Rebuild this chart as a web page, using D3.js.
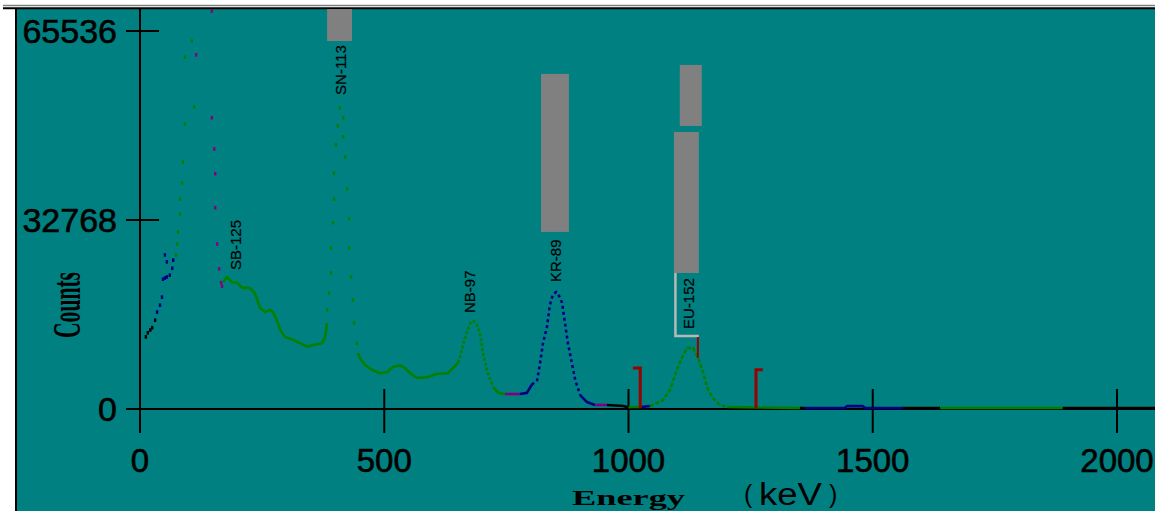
<!DOCTYPE html>
<html>
<head>
<meta charset="utf-8">
<script src="https://cdn.jsdelivr.net/npm/d3@7"></script>
<style>
    body { margin: 0; background: #fff; }
    svg { display: block; }
</style>
</head>
<body>
<svg id="chart" width="1155" height="511"></svg>
<script>
'use strict';

// axis ticks
var xTickValues = [0, 500, 1000, 1500, 2000];
var yTickValues = [0, 32768, 65536];

// spectrum pieces, [keV, counts]
var lowBlack = [[12, 12500], [16, 13200], [21, 13700], [25, 14100], [31, 15400]];
var lowBlue = [[35, 16800], [41, 18000], [45, 19400], [47, 22500], [51, 22700], [55, 22900],
    [61, 23200], [66, 24400], [68, 25800], [55, 25500], [51, 26700]];
var peak1Green = [[74, 26700], [76, 28600], [78, 30700], [82, 33800], [82, 36400], [86, 39200],
    [88, 42800], [92, 49400], [111, 52400], [92, 61000], [106, 63800]];
var peak1Magenta = [[115, 61400], [147, 69000], [147, 50500], [152, 45100], [154, 40800],
    [154, 34900], [158, 28600], [162, 24300], [166, 21900], [168, 21300]];
var sb125Line = [[170, 22000], [178, 22900], [188, 22000], [199, 21900], [209, 21000], [225, 21000],
    [235, 20100], [240, 18900], [246, 17500], [256, 16800], [266, 17200], [272, 16800], [280, 15400],
    [287, 13700], [297, 12500], [313, 12000], [328, 11400], [342, 10800], [354, 11100], [373, 11400],
    [379, 12500], [383, 14900]];
var sn113Dots = [[383, 17200], [387, 20100], [391, 23600], [391, 27900], [395, 32300], [397, 36400],
    [397, 40900], [401, 45800], [405, 49100], [409, 52200], [416, 50500], [416, 47200], [420, 43700],
    [424, 38200], [428, 33000], [428, 27900], [432, 22900], [436, 18900], [438, 14900], [444, 11400]];
var postSnLine = [[446, 9700], [450, 8800], [461, 7600], [475, 6800], [491, 6200], [506, 6400],
    [518, 7300], [532, 7600], [543, 7100], [553, 6200], [567, 5400], [588, 5500], [608, 6100],
    [630, 6200], [641, 7100], [651, 8000]];
var nb97Line = [[651, 8000], [655, 9000], [665, 12300], [676, 14900], [682, 15300], [690, 14600],
    [696, 13200], [702, 9700], [712, 6200], [723, 3800]];
var nb97Tail = [[723, 3800], [733, 2800], [747, 2600]];
var magentaA = [[747, 2600], [778, 2600]];
var blueA = [[778, 2600], [792, 2800], [802, 4200]];
var kr89Line = [[802, 4200], [813, 5000], [819, 8000], [825, 11400], [833, 14200], [839, 18000],
    [845, 19800], [852, 20300], [860, 19300], [864, 18400], [870, 14900], [876, 11400], [884, 8000],
    [891, 5000], [901, 2400]];
var blueB = [[901, 2400], [915, 1200], [931, 700]];
var magentaB = [[931, 700], [956, 700]];
var blackA = [[956, 700], [989, 520], [997, 350], [1001, 170]];
var greenA = [[1001, 170], [1003, 350], [1026, 350]];
var blueC = [[1026, 350], [1044, 520]];
var eu152Line = [[1044, 520], [1050, 690], [1071, 1560], [1085, 3300], [1099, 6800], [1110, 9000],
    [1120, 10600], [1132, 10600], [1142, 9000], [1153, 6200], [1163, 3300], [1173, 1900],
    [1187, 700], [1202, 350]];
var greenB = [[1202, 350], [1351, 170]];
var blackB = [[1351, 170], [1361, 170]];
var blueD = [[1361, 170], [1443, 170], [1447, 500], [1480, 500], [1484, 170], [1562, 170]];
var blackC = [[1562, 170], [1638, 170]];
var greenC = [[1638, 170], [1889, 170]];
var blackD = [[1889, 170], [2080, 170]];

// peak identification labels
var peakNames = ['SB-125', 'SN-113', 'NB-97', 'KR-89', 'EU-152'];
var peakLabelKeV = [195, 410, 675, 852, 1124];
var peakLabelCounts = [24100, 54450, 16650, 22020, 13870];

// grey bars: [keV from, keV to], [counts top, counts bottom]
var barKeV = [[383, 434], [821, 878], [1105, 1150], [1093, 1144]];
var barCounts = [[69400, 63800], [58100, 30700], [59650, 49070], [48030, 23580]];
var euBoxCounts = [23580, 12660];

// region-of-interest marks
var roiKeV = [1024, 1261];
var roiTab = [-15, 14];
var roiTop = [7100, 6800];
var euMarkKeV = 1142;
var euMarkCounts = [12480, 8840];

var GREEN = '#008000',
    BLUE = '#000080',
    MAGENTA = '#800080',
    BLACK = '#000',
    RED = '#990000';

var segments = [
    {pts: lowBlack, color: BLACK, mark: 'dot'},
    {pts: lowBlue, color: BLUE, mark: 'dot'},
    {pts: peak1Green, color: GREEN, mark: 'dot'},
    {pts: peak1Magenta, color: MAGENTA, mark: 'dot'},
    {pts: sb125Line, color: GREEN},
    {pts: sn113Dots, color: GREEN, mark: 'dot'},
    {pts: postSnLine, color: GREEN},
    {pts: nb97Line, color: GREEN, dash: '3,2'},
    {pts: nb97Tail, color: GREEN},
    {pts: magentaA, color: MAGENTA},
    {pts: blueA, color: BLUE},
    {pts: kr89Line, color: BLUE, dash: '3,3'},
    {pts: blueB, color: BLUE},
    {pts: magentaB, color: MAGENTA},
    {pts: blackA, color: BLACK},
    {pts: greenA, color: GREEN},
    {pts: blueC, color: BLUE},
    {pts: eu152Line, color: GREEN, dash: '4,2'},
    {pts: greenB, color: GREEN},
    {pts: blackB, color: BLACK},
    {pts: blueD, color: BLUE},
    {pts: blackC, color: BLACK},
    {pts: greenC, color: GREEN},
    {pts: blackD, color: BLACK}
];

var svg = d3.select('#chart');

var x = d3.scaleLinear().domain([0, 2000]).range([140, 1117]);
var y = d3.scaleLinear().domain([0, 65536]).range([409, 31]);

// window frame
svg.append('rect')
    .attr('x', 17).attr('y', 9)
    .attr('width', 1138).attr('height', 502)
    .attr('fill', '#008080');
svg.append('line')
    .attr('x1', 3).attr('x2', 1155).attr('y1', 5.5).attr('y2', 5.5)
    .attr('stroke', '#808080').attr('stroke-width', 1.5);
svg.append('line')
    .attr('x1', 3).attr('x2', 1155).attr('y1', 8.2).attr('y2', 8.2)
    .attr('stroke', '#000').attr('stroke-width', 2);
svg.append('line')
    .attr('x1', 16).attr('x2', 16).attr('y1', 8).attr('y2', 511)
    .attr('stroke', '#000').attr('stroke-width', 2);

var plot = svg.append('g');

// grey bars
barKeV.forEach(function(k, i) {
    var top = Math.max(9, y(barCounts[i][0]));
    plot.append('rect')
        .attr('x', x(k[0]))
        .attr('y', top)
        .attr('width', x(k[1]) - x(k[0]))
        .attr('height', y(barCounts[i][1]) - top)
        .attr('fill', '#808080');
});

// EU-152 label box (left and bottom edges only)
var euBox = barKeV[3];
plot.append('path')
    .attr('d', 'M' + (x(euBox[0]) + 1.5) + ',' + y(euBoxCounts[0]) +
        'V' + y(euBoxCounts[1]) + 'H' + x(euBox[1]))
    .attr('fill', 'none')
    .attr('stroke', '#b8b8b8')
    .attr('stroke-width', 2.5);

// axes
var x0 = x(0), y0 = y(0);
plot.append('line')
    .attr('x1', x0).attr('x2', x0).attr('y1', 9).attr('y2', y0 + 24)
    .attr('stroke', BLACK).attr('stroke-width', 2);
plot.append('line')
    .attr('x1', x0 - 14).attr('x2', 1155).attr('y1', y0).attr('y2', y0)
    .attr('stroke', BLACK).attr('stroke-width', 2);

var tickFont = 'Liberation Sans, Arial, sans-serif';

yTickValues.forEach(function(v) {
    plot.append('line')
        .attr('x1', x0 - 14).attr('x2', x0 + 19)
        .attr('y1', y(v)).attr('y2', y(v))
        .attr('stroke', BLACK).attr('stroke-width', 2);
    plot.append('text')
        .attr('x', x0 - 23).attr('y', y(v))
        .attr('dy', '0.36em')
        .attr('text-anchor', 'end')
        .attr('font-family', tickFont)
        .attr('font-size', 34)
        .attr('stroke', BLACK)
        .attr('stroke-width', 0.6)
        .text(v);
});

xTickValues.forEach(function(v) {
    plot.append('line')
        .attr('x1', x(v)).attr('x2', x(v))
        .attr('y1', y0 - 20).attr('y2', y0 + 24)
        .attr('stroke', BLACK).attr('stroke-width', 2);
    plot.append('text')
        .attr('x', x(v)).attr('y', y0 + 63)
        .attr('text-anchor', 'middle')
        .attr('font-family', tickFont)
        .attr('font-size', 33)
        .attr('stroke', BLACK)
        .attr('stroke-width', 0.6)
        .text(v);
});

// spectrum
var line = d3.line()
    .x(function(d) { return x(d[0]); })
    .y(function(d) { return Math.max(10, y(d[1])); });

segments.forEach(function(seg) {
    if (seg.mark === 'dot') {
        plot.append('g')
            .selectAll('rect')
            .data(seg.pts)
            .join('rect')
            .attr('x', function(d) { return x(d[0]) - 1.2; })
            .attr('y', function(d) { return Math.max(10, y(d[1])) - 1.8; })
            .attr('width', 2.4)
            .attr('height', 3.6)
            .attr('fill', seg.color);
    } else {
        plot.append('path')
            .attr('d', line(seg.pts))
            .attr('fill', 'none')
            .attr('stroke', seg.color)
            .attr('stroke-width', 2.6)
            .attr('stroke-linejoin', 'round')
            .attr('stroke-dasharray', seg.dash || null);
    }
});

// ROI brackets
roiKeV.forEach(function(k, i) {
    plot.append('path')
        .attr('d', 'M' + x(k + roiTab[i]) + ',' + y(roiTop[i]) +
            'H' + x(k) + 'V' + y(170))
        .attr('fill', 'none')
        .attr('stroke', RED)
        .attr('stroke-width', 3);
});
plot.append('line')
    .attr('x1', x(euMarkKeV)).attr('x2', x(euMarkKeV))
    .attr('y1', y(euMarkCounts[0])).attr('y2', y(euMarkCounts[1]))
    .attr('stroke', RED).attr('stroke-width', 2);

// peak labels
peakNames.forEach(function(name, i) {
    plot.append('text')
        .attr('transform', 'translate(' + x(peakLabelKeV[i]) + ',' + y(peakLabelCounts[i]) + ') rotate(-90)')
        .attr('dy', '0.35em')
        .attr('font-family', tickFont)
        .attr('font-size', 15)
        .attr('stroke', BLACK)
        .attr('stroke-width', 0.2)
        .text(name);
});

// axis titles
svg.append('text')
    .attr('transform', 'translate(80,338) rotate(-90)')
    .attr('font-family', 'Liberation Serif, Times New Roman, serif')
    .attr('font-weight', 'bold')
    .attr('font-size', 41)
    .attr('textLength', 66)
    .attr('lengthAdjust', 'spacingAndGlyphs')
    .text('Counts');

svg.append('text')
    .attr('x', 572).attr('y', 505)
    .attr('font-family', 'Liberation Serif, Times New Roman, serif')
    .attr('font-weight', 'bold')
    .attr('font-size', 21)
    .attr('textLength', 113)
    .attr('lengthAdjust', 'spacingAndGlyphs')
    .text('Energy');

svg.append('text')
    .attr('x', 744).attr('y', 503)
    .attr('font-family', tickFont).attr('font-size', 25)
    .text('(');
svg.append('text')
    .attr('x', 759).attr('y', 505)
    .attr('font-family', tickFont).attr('font-size', 31)
    .attr('textLength', 63)
    .attr('lengthAdjust', 'spacingAndGlyphs')
    .text('keV');
svg.append('text')
    .attr('x', 829).attr('y', 503)
    .attr('font-family', tickFont).attr('font-size', 25)
    .text(')');
</script>
</body>
</html>
